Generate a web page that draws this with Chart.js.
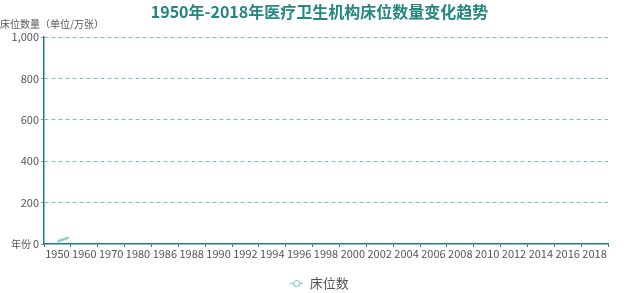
<!DOCTYPE html>
<html>
<head>
<meta charset="utf-8">
<script src="https://cdn.jsdelivr.net/npm/chart.js@4/dist/chart.umd.min.js"></script>
<style>
  html, body { margin: 0; padding: 0; background: #fff; }
  #wrap { width: 639px; height: 293px; }
</style>
</head>
<body>
<div id="wrap"><canvas id="chart-beds" width="639" height="293"></canvas></div>
<script>
'use strict';

const years = ['1950', '1960', '1970', '1980', '1986', '1988', '1990', '1992', '1994', '1996',
    '1998', '2000', '2002', '2004', '2006', '2008', '2010', '2012', '2014', '2016', '2018'];
// 床位数 (万张), only the start of the line is visible in the picture
const beds = [11.9, 57, 126.2, 218.4, 256.3, 279.5, 292.5, 304.9, 313.4, 320.5,
    329.4, 317.7, 313.6, 326.8, 351.2, 403.9, 478.7, 572.5, 660.1, 741.0, 840.4];
const yTicks = [0, 200, 400, 600, 800, 1000];

const teal = '#23877f';
const axisTeal = '#1f7d80';
const lineColor = '#86d3cc';
const font = '"Noto Sans CJK SC", "Noto Sans", sans-serif';

// the picture caught the line mid-animation: only part of the first segment is drawn
const drawnCategories = 0.42;

/**
 * Legend icon: short line with an empty circle
 */
function legendIcon() {
    const c = document.createElement('canvas');
    c.width = 13;
    c.height = 9;
    const g = c.getContext('2d');
    g.strokeStyle = lineColor;
    g.lineWidth = 1.2;
    g.beginPath();
    g.moveTo(0, 4.5);
    g.lineTo(13, 4.5);
    g.stroke();
    g.fillStyle = '#fff';
    g.beginPath();
    g.arc(6.5, 4.5, 3, 0, Math.PI * 2);
    g.fill();
    g.stroke();
    return c;
}

const revealPlugin = {
    id: 'reveal',
    beforeDatasetsDraw(chart) {
        const x = chart.scales.x;
        const area = chart.chartArea;
        const step = x.getPixelForValue(1) - x.getPixelForValue(0);
        const right = x.getPixelForValue(0) + step * drawnCategories;
        const ctx = chart.ctx;
        ctx.save();
        ctx.beginPath();
        ctx.rect(area.left, 0, right - area.left, chart.height);
        ctx.clip();
    },
    afterDatasetsDraw(chart) {
        chart.ctx.restore();
    }
};

const axisNamePlugin = {
    id: 'axisNames',
    afterDraw(chart) {
        const ctx = chart.ctx;
        const y = chart.scales.y;
        ctx.save();
        ctx.font = '10px ' + font;
        ctx.fillStyle = '#555';
        ctx.textBaseline = 'middle';
        ctx.textAlign = 'left';
        ctx.fillText('床位数量（单位/万张）', 0, y.top - 13);
        ctx.fillText('年份', 11, y.bottom);
        ctx.restore();
    }
};

const canvas = document.getElementById('chart-beds');

new Chart(canvas.getContext('2d'), {
    type: 'line',
    data: {
        labels: years,
        datasets: [{
            label: '床位数',
            data: beds,
            borderColor: lineColor,
            backgroundColor: lineColor,
            borderWidth: 2.5,
            pointRadius: 0,
            tension: 0,
            fill: false
        }]
    },
    plugins: [revealPlugin, axisNamePlugin],
    options: {
        responsive: false,
        animation: false,
        layout: {padding: {left: 0, right: 0, top: 0, bottom: -7}},
        plugins: {
            title: {
                display: true,
                text: '1950年-2018年医疗卫生机构床位数量变化趋势',
                color: teal,
                font: {family: font, size: 16, weight: 'bold'},
                padding: {top: 2, bottom: 16}
            },
            legend: {
                position: 'bottom',
                labels: {
                    usePointStyle: true,
                    color: '#555',
                    font: {family: font, size: 13},
                    padding: 2,
                    generateLabels(chart) {
                        return [{
                            text: '床位数',
                            pointStyle: legendIcon(),
                            fontColor: '#555',
                            strokeStyle: lineColor,
                            fillStyle: lineColor,
                            datasetIndex: 0,
                            hidden: false
                        }];
                    }
                }
            },
            tooltip: {enabled: false}
        },
        scales: {
            x: {
                offset: true,
                afterFit(scale) {
                    scale.height = 31;
                },
                grid: {
                    display: true,
                    offset: true,
                    drawOnChartArea: false,
                    drawTicks: true,
                    tickLength: 3,
                    color: axisTeal
                },
                border: {color: axisTeal, width: 1.5},
                ticks: {
                    color: '#555',
                    font: {family: font, size: 11},
                    maxRotation: 0,
                    autoSkip: false,
                    padding: 0
                }
            },
            y: {
                min: 0,
                max: 1000,
                afterBuildTicks(scale) {
                    scale.ticks = yTicks.map(v => ({value: v}));
                },
                afterFit(scale) {
                    scale.width = 44;
                },
                grid: {
                    color: ctx => ctx.tick.value === 0 ? 'rgba(0,0,0,0)' : '#6fc4bb',
                    tickColor: '#999',
                    tickLength: 3,
                    drawTicks: true
                },
                border: {color: axisTeal, width: 1.5, dash: [4, 3]},
                ticks: {
                    color: '#555',
                    font: {family: font, size: 11},
                    padding: 2,
                    callback: v => v.toLocaleString('en-US')
                }
            },
            // empty right-hand axis, only keeps the margin so title and legend stay centred on the page
            yRight: {
                position: 'right',
                min: 0,
                max: 1000,
                afterFit(scale) {
                    scale.width = 31;
                },
                grid: {display: false},
                border: {display: false},
                ticks: {display: false}
            }
        }
    }
});
</script>
</body>
</html>
